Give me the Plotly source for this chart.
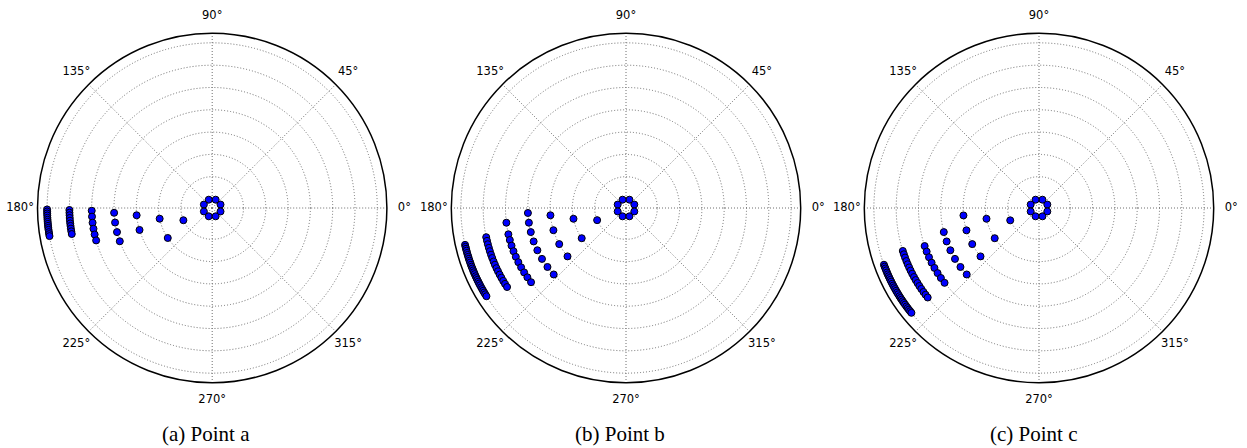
import plotly.graph_objects as go

# ---------------- data ----------------
RING_RADII = [0, 1, 2, 3, 4, 5, 6, 7]

RING0_THETA = [22.5, 67.5, 112.5, 157.5, 202.5, 247.5, 292.5, 337.5]

POINT_A_THETA = [
    RING0_THETA,
    [203.0],
    [191.5, 214.0],
    [185.5, 196.8],
    [182.8, 188.5, 194.2, 199.8],
    [181.3, 184.1, 187.0, 189.9, 192.7, 195.6],
    [180.8, 181.9, 182.9, 184.0, 185.1, 186.2, 187.2, 188.3, 189.4, 190.5],
    [180.5, 181.2, 181.9, 182.6, 183.4, 184.1, 184.8, 185.5, 186.2, 186.9,
     187.6, 188.4, 189.1, 189.8],
]

POINT_B_THETA = [
    RING0_THETA,
    [202.8],
    [191.6, 214.3],
    [185.5, 197.0, 208.4, 219.6],
    [182.9, 188.6, 194.2, 199.9, 205.5, 211.2, 216.9, 222.6],
    [187.0, 192.6, 195.4, 198.2, 201.0, 203.9, 206.7, 209.5, 212.3, 215.1, 218.0],
    [191.8, 193.3, 194.7, 196.2, 197.6, 199.1, 200.5, 202.0, 203.4, 204.9,
     206.3, 207.8, 209.2, 210.7, 212.1, 213.6],
    [192.9, 193.6, 194.3, 195.0, 195.8, 196.5, 197.2, 197.9, 198.6, 199.3,
     200.1, 200.8, 201.5, 202.2, 202.9, 203.6, 204.4, 205.1, 205.8, 206.5,
     207.2, 207.9, 208.7, 209.4, 210.1, 210.8, 211.5, 212.3],
]

POINT_C_THETA = [
    RING0_THETA,
    [203.2],
    [191.6, 214.3],
    [185.6, 197.1, 208.4, 219.6],
    [194.2, 199.9, 205.5, 211.2, 216.9, 222.6],
    [198.4, 201.2, 204.1, 207.0, 209.8, 212.7, 215.5, 218.4],
    [197.5, 198.9, 200.3, 201.8, 203.2, 204.6, 206.0, 207.4, 208.9, 210.3,
     211.7, 213.1, 214.5, 216.0, 217.4, 218.8],
    [200.1, 200.8, 201.5, 202.2, 203.0, 203.7, 204.4, 205.1, 205.8, 206.5,
     207.3, 208.0, 208.7, 209.4, 210.1, 210.8, 211.5, 212.3, 213.0, 213.7,
     214.4, 215.1, 215.8, 216.6, 217.3, 218.0, 218.7, 219.4],
]

CAPTIONS = ["(a) Point a", "(b) Point b", "(c) Point c"]
ANGLE_TICKS = [0, 45, 90, 135, 180, 225, 270, 315]
ANGLE_TEXT = ["0°", "45°", "90°", "135°", "180°", "225°", "270°", "315°"]

# ---------------- figure ----------------
W, H = 1247, 448
centers_x = [212.2, 626.0, 1039.0]
center_y = 208.0
R_DOM = 174.7                 # outer circle radius (px)
R_RANGE = [-0.404, 7.43]
LABEL_SCALE = 1.15            # label overlay polar is 1.15x larger
LABEL_R = 1.1                 # labels at 1.1x outer radius (matplotlib style)

fig = go.Figure()
panels = [POINT_A_THETA, POINT_B_THETA, POINT_C_THETA]

GRID = dict(gridcolor="#6e6e6e", griddash="1px,2px", gridwidth=1)


def dom(cx, rad):
    return dict(x=[(cx - rad) / W, (cx + rad) / W],
                y=[(H - center_y - rad) / H, (H - center_y + rad) / H])


for i, data in enumerate(panels):
    pname = "polar" if i == 0 else f"polar{i + 1}"
    lname = f"polar{i + 4}"
    rr, tt = [], []
    for ring, thetas in zip(RING_RADII, data):
        rr += [ring] * len(thetas)
        tt += thetas
    fig.add_trace(go.Scatterpolar(
        r=rr, theta=tt, mode="markers", subplot=pname,
        marker=dict(size=7, color="#0000ff",
                    line=dict(color="black", width=1)),
        showlegend=False, hoverinfo="skip",
    ))
    fig.add_trace(go.Scatterpolar(
        r=[LABEL_R] * len(ANGLE_TICKS), theta=ANGLE_TICKS, text=ANGLE_TEXT,
        mode="text", subplot=lname, cliponaxis=False,
        textposition="middle center",
        textfont=dict(family="DejaVu Sans", size=11.5, color="black"),
        showlegend=False, hoverinfo="skip",
    ))
    cx = centers_x[i]
    fig.layout[pname] = dict(
        domain=dom(cx, R_DOM),
        bgcolor="white",
        radialaxis=dict(
            range=R_RANGE, tickvals=RING_RADII,
            showticklabels=False, ticks="", showline=False, **GRID,
        ),
        angularaxis=dict(
            rotation=0, direction="counterclockwise",
            tickvals=ANGLE_TICKS, showticklabels=False, ticks="",
            showline=True, linecolor="black", linewidth=1.5,
            **GRID,
        ),
    )
    fig.layout[lname] = dict(
        domain=dom(cx, R_DOM * LABEL_SCALE),
        bgcolor="rgba(0,0,0,0)",
        radialaxis=dict(range=[0, LABEL_SCALE], visible=False),
        angularaxis=dict(rotation=0, direction="counterclockwise",
                         visible=False),
    )
    fig.add_annotation(
        x=(cx - 6) / W, y=(H - 434) / H, xref="paper", yref="paper",
        text=CAPTIONS[i], showarrow=False,
        font=dict(family="Liberation Serif", size=21, color="black"),
        xanchor="center", yanchor="middle",
    )

fig.update_layout(
    width=W, height=H, margin=dict(l=0, r=0, t=0, b=0),
    paper_bgcolor="white", plot_bgcolor="white",
)

fig.write_html("out.html", config={"displayModeBar": False},
               post_script="document.body.style.margin='0px';")
